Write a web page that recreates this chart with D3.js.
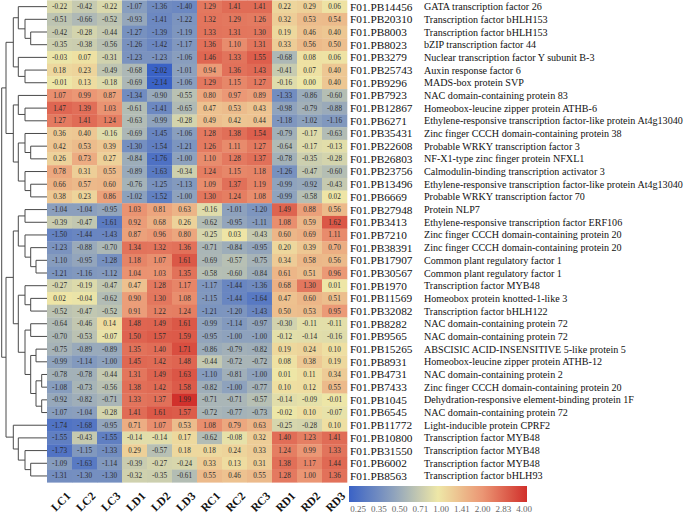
<!DOCTYPE html>
<html>
<head>
<meta charset="utf-8">
<script src="https://cdn.jsdelivr.net/npm/d3@7"></script>
<style>
  body { margin: 0; background: #fff; }
  svg { display: block; }
</style>
</head>
<body>
<svg id="chart" width="685" height="516"></svg>
<script>
// samples (columns)
const samples = ['LC1','LC2','LC3','LD1','LD2','LD3','RC1','RC2','RC3','RD1','RD2','RD3']

const geneIds = ['F01.PB14456','F01.PB20310','F01.PB8003','F01.PB8023','F01.PB3279','F01.PB25743','F01.PB9296',
  'F01.PB7923','F01.PB12867','F01.PB6271','F01.PB35431','F01.PB22608','F01.PB26803','F01.PB23756','F01.PB13496',
  'F01.PB6669','F01.PB27948','F01.PB3413','F01.PB7210','F01.PB38391','F01.PB17907','F01.PB30567','F01.PB1970',
  'F01.PB11569','F01.PB32082','F01.PB8282','F01.PB9565','F01.PB15265','F01.PB8931','F01.PB4731','F01.PB7433',
  'F01.PB1045','F01.PB6545','F01.PB11772','F01.PB10800','F01.PB31550','F01.PB6002','F01.PB8563']

const geneNames = ['GATA transcription factor 26','Transcription factor bHLH153','Transcription factor bHLH153',
  'bZIP transcription factor 44','Nuclear transcription factor Y subunit B-3','Auxin response factor 6',
  'MADS-box protein SVP','NAC domain-containing protein 83','Homeobox-leucine zipper protein ATHB-6',
  'Ethylene-responsive transcription factor-like protein At4g13040','Zinc finger CCCH domain-containing protein 38',
  'Probable WRKY transcription factor 3','NF-X1-type zinc finger protein NFXL1','Calmodulin-binding transcription activator 3',
  'Ethylene-responsive transcription factor-like protein At4g13040','Probable WRKY transcription factor 70',
  'Protein NLP7','Ethylene-responsive transcription factor ERF106','Zinc finger CCCH domain-containing protein 20',
  'Zinc finger CCCH domain-containing protein 20','Common plant regulatory factor 1','Common plant regulatory factor 1',
  'Transcription factor MYB48','Homeobox protein knotted-1-like 3','Transcription factor bHLH122',
  'NAC domain-containing protein 72','NAC domain-containing protein 72','ABSCISIC ACID-INSENSITIVE 5-like protein 5',
  'Homeobox-leucine zipper protein ATHB-12','NAC domain-containing protein 2','Zinc finger CCCH domain-containing protein 20',
  'Dehydration-responsive element-binding protein 1F','NAC domain-containing protein 72','Light-inducible protein CPRF2',
  'Transcription factor MYB48','Transcription factor MYB48','Transcription factor MYB48','Transcription factor bHLH93']

// z-scores, one row per gene
const values = [
  [-0.22,-0.42,-0.22,-1.07,-1.36,-1.40, 1.29, 1.41, 1.41, 0.22, 0.29, 0.06],
  [-0.51,-0.66,-0.52,-0.93,-1.41,-1.22, 1.32, 1.29, 1.26, 0.32, 0.53, 0.54],
  [-0.42,-0.28,-0.44,-1.27,-1.39,-1.19, 1.33, 1.31, 1.30, 0.19, 0.46, 0.40],
  [-0.35,-0.38,-0.56,-1.26,-1.42,-1.17, 1.36, 1.10, 1.31, 0.33, 0.56, 0.50],
  [-0.03, 0.07,-0.31,-1.23,-1.23,-1.06, 1.46, 1.33, 1.55,-0.68, 0.08, 0.06],
  [ 0.18, 0.23,-0.49,-0.68,-2.02,-1.01, 0.94, 1.36, 1.43,-0.41, 0.07, 0.40],
  [-0.01, 0.13,-0.18,-0.69,-2.14,-1.06, 1.29, 1.15, 1.27,-0.16,-0.00, 0.40],
  [ 1.07, 0.99, 0.87,-1.34,-0.90,-0.55, 0.80, 0.97, 0.89,-1.33,-0.86,-0.60],
  [ 1.47, 1.39, 1.03,-0.61,-1.41,-0.65, 0.47, 0.53, 0.43,-0.98,-0.79,-0.88],
  [ 1.27, 1.41, 1.24,-0.63,-0.99,-0.28, 0.49, 0.42, 0.44,-1.18,-1.02,-1.16],
  [ 0.36, 0.40,-0.16,-0.69,-1.45,-1.06, 1.28, 1.38, 1.54,-0.79,-0.17,-0.63],
  [ 0.42, 0.53, 0.39,-1.30,-1.54,-1.21, 1.26, 1.11, 1.27,-0.64,-0.17,-0.13],
  [ 0.26, 0.73, 0.27,-0.84,-1.76,-1.00, 1.10, 1.28, 1.37,-0.78,-0.35,-0.28],
  [ 0.78, 0.31, 0.55,-0.89,-1.63,-0.34, 1.24, 1.15, 1.18,-1.26,-0.47,-0.60],
  [ 0.66, 0.57, 0.60,-0.76,-1.25,-1.13, 1.09, 1.37, 1.19,-0.99,-0.92,-0.43],
  [ 0.38, 0.23, 0.86,-1.02,-1.52,-1.00, 1.30, 1.24, 1.08,-0.99,-0.58, 0.02],
  [-1.04,-1.04,-0.95, 1.03, 0.81, 0.63,-0.16,-1.01,-1.20, 1.49, 0.88, 0.56],
  [-0.39,-0.47,-1.61, 0.92, 0.68, 0.26,-0.62,-0.95,-1.11, 1.08, 0.59, 1.62],
  [-1.50,-1.44,-1.43, 0.87, 0.96, 0.80,-0.25, 0.03,-0.43, 0.60, 0.69, 1.11],
  [-1.23,-0.88,-0.70, 1.34, 1.32, 1.36,-0.71,-0.84,-0.95, 0.20, 0.39, 0.70],
  [-1.10,-0.95,-1.28, 1.18, 1.07, 1.61,-0.69,-0.57,-0.75, 0.34, 0.58, 0.56],
  [-1.21,-1.16,-1.12, 1.04, 1.03, 1.35,-0.58,-0.60,-0.84, 0.61, 0.51, 0.96],
  [-0.27,-0.19,-0.47, 0.47, 1.28, 1.17,-1.17,-1.44,-1.36, 0.68, 1.30, 0.01],
  [ 0.02,-0.04,-0.62, 0.90, 1.30, 1.08,-1.15,-1.44,-1.64, 0.47, 0.60, 0.51],
  [-0.52,-0.47,-0.52, 0.91, 1.22, 1.24,-1.21,-1.20,-1.43, 0.50, 0.53, 0.95],
  [-0.64,-0.46, 0.14, 1.48, 1.49, 1.61,-0.99,-1.14,-0.97,-0.30,-0.11,-0.11],
  [-0.70,-0.53,-0.07, 1.50, 1.57, 1.59,-0.95,-1.00,-1.00,-0.12,-0.14,-0.16],
  [-0.75,-0.89,-0.89, 1.35, 1.40, 1.71,-0.86,-0.79,-0.82, 0.19, 0.24, 0.10],
  [-0.99,-1.14,-1.00, 1.45, 1.42, 1.48,-0.44,-0.72,-0.72, 0.08, 0.38, 0.19],
  [-0.78,-0.78,-0.44, 1.31, 1.49, 1.63,-1.10,-0.81,-1.00, 0.01, 0.11, 0.34],
  [-1.08,-0.73,-0.56, 1.38, 1.42, 1.58,-0.82,-1.00,-0.77, 0.10, 0.12, 0.55],
  [-0.92,-0.82,-0.71, 1.33, 1.37, 1.99,-0.71,-0.71,-0.57,-0.14,-0.09,-0.01],
  [-1.07,-1.04,-0.28, 1.41, 1.61, 1.57,-0.72,-0.77,-0.73,-0.02, 0.10,-0.07],
  [-1.74,-1.68,-0.95, 0.71, 1.07, 0.53, 1.08, 0.79, 0.63,-0.25,-0.28, 0.10],
  [-1.55,-0.43,-1.55,-0.14,-0.14, 0.17,-0.62,-0.08, 0.32, 1.40, 1.23, 1.41],
  [-1.73,-1.15,-1.33, 0.29,-0.57, 0.18, 0.18, 0.24, 0.33, 1.24, 0.99, 1.33],
  [-1.09,-1.63,-1.14,-0.39,-0.27,-0.24, 0.33, 0.13, 0.31, 1.38, 1.17, 1.44],
  [-1.31,-1.30,-1.30,-0.32,-0.35,-0.61, 0.55, 0.46, 0.55, 1.28, 1.00, 1.36]
]

// row dendrogram: [height, left, right], leaves are row indexes
const rowTree =
  [45.3,
    [41,
      [33.7,
        [28.7, 0, [22, 1, [16.3, 2, 3]]],
        [28.7, 4, [22, 5, 6]]],
      [33.7,
        [28.7, 7, [22, 8, 9]],
        [28.7, [22, 10, [16.3, 11, 12]], [22, 13, [16.3, 14, 15]]]]],
    [41,
      [33.7,
        [28.7, [22, 16, 17], [22, 18, [16.3, 19, [11, 20, 21]]]],
        [28.7, [22, 22, [16.3, 23, 24]],
               [22, [16.3, 25, 26], [16.3, [11, 27, 28], [11, [5.3, 29, 30], [5.3, 31, 32]]]]]],
      [33.7, 33, [28.7, 34, [22, 35, [16.3, 36, 37]]]]]]

const legendTicks = ['0.25','0.35','0.50','0.71','1.00','1.41','2.00','2.83','4.00']

const svg = d3.select('#chart')
const font = '"Liberation Serif", "Times New Roman", serif'

const x = d3.scaleBand().domain(samples).range([47, 347])
const y = d3.scaleBand().domain(d3.range(geneIds.length)).range([0.3, 482.3])

const color = d3.scaleLinear()
  .domain([-2, -1, 0, 1, 2])
  .range(['#3a62c6', '#8ea2bd', '#eee7a7', '#eb9674', '#d1302b'])
  .clamp(true)

// heatmap cells
const cells = []
values.forEach((row, i) => row.forEach((v, j) => cells.push({ i: i, j: j, v: v })))

svg.append('g').selectAll('rect')
  .data(cells)
  .join('rect')
    .attr('x', d => x(samples[d.j]))
    .attr('y', d => y(d.i))
    .attr('width', x.bandwidth() + 0.3)
    .attr('height', y.bandwidth() + 0.3)
    .attr('fill', d => color(d.v))

svg.append('g').selectAll('text')
  .data(cells)
  .join('text')
    .attr('x', d => x(samples[d.j]) + x.bandwidth() / 2)
    .attr('y', d => y(d.i) + y.bandwidth() / 2)
    .attr('dy', '0.35em')
    .attr('text-anchor', 'middle')
    .attr('font-family', font)
    .attr('font-size', 7.2)
    .attr('fill', '#2b2b2b')
    .text(d => d.v.toFixed(2))

// row labels
const labels = svg.append('g')
labels.selectAll('text.id')
  .data(geneIds)
  .join('text')
    .attr('class', 'id')
    .attr('x', 350)
    .attr('y', (d, i) => y(i) + y.bandwidth() / 2)
    .attr('dy', '0.35em')
    .attr('font-family', font)
    .attr('font-size', 11.3)
    .attr('fill', '#111')
    .text(d => d)

labels.selectAll('text.name')
  .data(geneNames)
  .join('text')
    .attr('class', 'name')
    .attr('x', 424)
    .attr('y', (d, i) => y(i) + y.bandwidth() / 2)
    .attr('dy', '0.35em')
    .attr('font-family', font)
    .attr('font-size', 10.1)
    .attr('fill', '#111')
    .text(d => d)

// column labels
svg.append('g').selectAll('text')
  .data(samples)
  .join('text')
    .attr('transform', d => `translate(${x(d) + x.bandwidth() / 2 + 6},${491}) rotate(-45)`)
    .attr('text-anchor', 'end')
    .attr('dy', '0.7em')
    .attr('font-family', font)
    .attr('font-weight', 'bold')
    .attr('font-size', 11.5)
    .attr('fill', '#111')
    .text(d => d)

// dendrogram
const hx = d3.scaleLinear().domain([0, 45.3]).range([47, 1.7])
const tree = svg.append('g')
  .attr('fill', 'none')
  .attr('stroke', '#4a4a4a')
  .attr('stroke-width', 1)

function drawNode(node) {
  if (typeof node === 'number') {
    return { x: hx(0), y: y(node) + y.bandwidth() / 2 }
  }
  let a = drawNode(node[1])
  let b = drawNode(node[2])
  let nx = hx(node[0])
  tree.append('path')
    .attr('d', `M${a.x},${a.y}H${nx}V${b.y}H${b.x}`)
  return { x: nx, y: (a.y + b.y) / 2 }
}
let root = drawNode(rowTree)

// colour key
const defs = svg.append('defs')
const grad = defs.append('linearGradient').attr('id', 'key')
d3.range(0, 1.0001, 0.05).forEach(t => {
  grad.append('stop')
    .attr('offset', t)
    .attr('stop-color', color(-2 + 4 * t))
})
svg.append('rect')
  .attr('x', 349).attr('y', 486)
  .attr('width', 178).attr('height', 16)
  .attr('fill', 'url(#key)')

const keyX = d3.scalePoint().domain(legendTicks).range([358, 524])
svg.append('g').selectAll('text')
  .data(legendTicks)
  .join('text')
    .attr('x', d => keyX(d))
    .attr('y', 512)
    .attr('text-anchor', 'middle')
    .attr('font-family', font)
    .attr('font-size', 9)
    .attr('fill', '#666')
    .text(d => d)
</script>
</body>
</html>
